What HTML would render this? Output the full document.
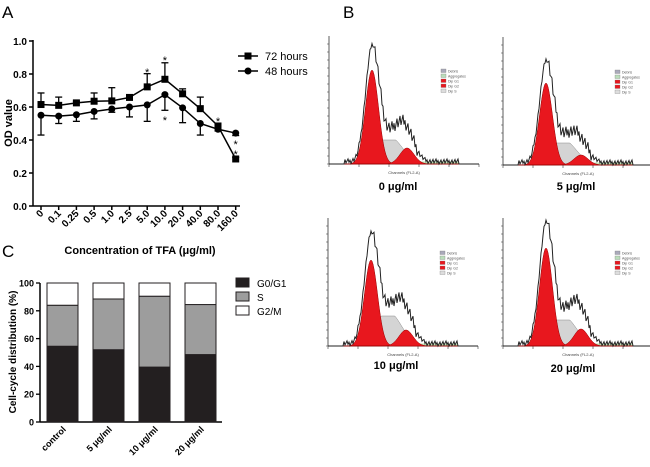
<!DOCTYPE html>
<html><head><meta charset="utf-8"><style>
body{margin:0;background:#fff;width:650px;height:462px;overflow:hidden;font-family:"Liberation Sans",Arial,sans-serif}
</style></head><body>
<svg id="svg" width="650" height="462" xmlns="http://www.w3.org/2000/svg" font-family="Liberation Sans, Arial, sans-serif">
<text x="2" y="18" font-size="17">A</text>
<text x="343" y="18" font-size="17">B</text>
<text x="2" y="257" font-size="17">C</text>
<g id="pa"></g>
<g id="pb"></g>
<g id="pc"></g>
</svg>
<script>
const NS="http://www.w3.org/2000/svg";
function mk(p,t,a){const e=document.createElementNS(NS,t);for(const k in a)e.setAttribute(k,a[k]);p.appendChild(e);return e;}
// ---- Panel A data
const concLabels=["0","0.1","0.25","0.5","1.0","2.5","5.0","10.0","20.0","40.0","80.0","160.0"];
const od72=[0.615,0.61,0.625,0.635,0.637,0.658,0.722,0.768,0.68,0.59,0.485,0.285];
const err72=[0.07,0.05,0.01,0.05,0.08,0.01,0.08,0.1,0.03,0.07,0.01,0.01];
const od48=[0.55,0.545,0.553,0.573,0.588,0.6,0.613,0.675,0.595,0.5,0.465,0.442];
const err48=[0.12,0.045,0.04,0.045,0.02,0.06,0.1,0.095,0.09,0.07,0.01,0.015];
const yTicksA=[0,0.2,0.4,0.6,0.8,1.0];
// ---- Panel C data
const groups=["control","5 μg/ml","10 μg/ml","20 μg/ml"];
const g0g1=[54.5,52,39.5,48.5];
const sPhase=[29.5,36.5,51,36];
const g2m=[16,11.5,9.5,15.5];
const yTicksC=[0,20,40,60,80,100];

(function(){
const g=document.getElementById('pa');
const X=i=>41+i*17.7, Y=v=>206-v*165;
let e=mk(g,'line',{x1:33,y1:40,x2:33,y2:206,stroke:'#000','stroke-width':1.5});

e=mk(g,'line',{x1:33,y1:206,x2:240,y2:206,stroke:'#000','stroke-width':1.5});

yTicksA.forEach(v=>{mk(g,'line',{x1:29,y1:Y(v),x2:33,y2:Y(v),stroke:'#000','stroke-width':1.5});
 const t=mk(g,'text',{x:27,y:Y(v)+4,'font-size':10,'font-weight':'bold','text-anchor':'end'});t.textContent=v.toFixed(1);
 });
concLabels.forEach((l,i)=>{mk(g,'line',{x1:X(i),y1:206,x2:X(i),y2:210,stroke:'#000','stroke-width':1.5});
 const t=mk(g,'text',{x:X(i)+3,y:214,'font-size':10,'font-weight':'bold','text-anchor':'end',transform:`rotate(-45 ${X(i)+3} 214)`});t.textContent=l;
 });
let t=mk(g,'text',{x:0,y:0,'font-size':11,'font-weight':'bold','text-anchor':'middle',transform:'translate(12 123) rotate(-90)'});t.textContent='OD value';

t=mk(g,'text',{x:140,y:254,'font-size':11,'font-weight':'bold','text-anchor':'middle'});t.textContent='Concentration of TFA (μg/ml)';

function series(vals,errs,name,sq,dir){
 mk(g,'polyline',{points:vals.map((v,i)=>X(i)+','+Y(v)).join(' '),fill:'none',stroke:'#000','stroke-width':1.5});
 vals.forEach((v,i)=>{const y2=Y(v+dir*errs[i]);
  mk(g,'line',{x1:X(i),y1:Y(v),x2:X(i),y2:y2,stroke:'#000','stroke-width':1.3});
  mk(g,'line',{x1:X(i)-3.5,y1:y2,x2:X(i)+3.5,y2:y2,stroke:'#000','stroke-width':1.3});
  const m=sq?mk(g,'rect',{x:X(i)-3.5,y:Y(v)-3.5,width:7,height:7,fill:'#000'}):mk(g,'circle',{cx:X(i),cy:Y(v),r:3.5,fill:'#000'});
  });
}
series(od72,err72,'72h',true,1);
series(od48,err48,'48h',false,-1);
[[6,69],[7,57],[7,117],[10,118],[11,141],[11,151]].forEach(([i,cy])=>{const s=mk(g,'text',{x:X(i),y:cy+7,'font-size':11,'text-anchor':'middle'});s.textContent='*';
 });
[['72 hours',true,56],['48 hours',false,71]].forEach(([l,sq,y])=>{mk(g,'line',{x1:238,y1:y,x2:258,y2:y,stroke:'#000','stroke-width':1.5});
 sq?mk(g,'rect',{x:244.5,y:y-3.5,width:7,height:7}):mk(g,'circle',{cx:248,cy:y,r:3.5});
 const tt=mk(g,'text',{x:265,y:y+4,'font-size':11});tt.textContent=l;});
})();

(function(){
const g=document.getElementById('pc');
const Y=v=>422-v*1.39; const BX=[47,93,139,185];
mk(g,'line',{x1:40,y1:283,x2:40,y2:422,stroke:'#000','stroke-width':1.5});
mk(g,'line',{x1:40,y1:422,x2:222,y2:422,stroke:'#000','stroke-width':1.5});
yTicksC.forEach(v=>{mk(g,'line',{x1:36,y1:Y(v),x2:40,y2:Y(v),stroke:'#000','stroke-width':1.3});
 const t=mk(g,'text',{x:34,y:Y(v)+3.5,'font-size':9,'font-weight':'bold','text-anchor':'end'});t.textContent=v;});
let t=mk(g,'text',{x:0,y:0,'font-size':10,'font-weight':'bold','text-anchor':'middle',transform:'translate(16 352) rotate(-90)'});t.textContent='Cell-cycle distribution (%)';

groups.forEach((l,i)=>{const x=BX[i],w=31;let base=0;
 [[g0g1[i],'#231f20','g0g1'],[sPhase[i],'#9d9d9d','s'],[g2m[i],'#fff','g2m']].forEach(([v,c,n])=>{
  const r=mk(g,'rect',{x:x,y:Y(base+v),width:w,height:v*1.39,fill:c,stroke:'#231f20','stroke-width':1});
  base+=v;});
 const cx=x+w/2+4;const tt=mk(g,'text',{x:cx,y:430,'font-size':9,'font-weight':'bold','text-anchor':'end',transform:`rotate(-45 ${cx} 430)`});tt.textContent=l;
 });
[['G0/G1','#231f20',283],['S','#9d9d9d',297],['G2/M','#fff',311]].forEach(([l,c,y])=>{
 mk(g,'rect',{x:236,y:y-5,width:13,height:9,fill:c,stroke:'#231f20'});
 const tt=mk(g,'text',{x:257,y:y+4,'font-size':10});tt.textContent=l;});
})();

(function(){
const g=document.getElementById('pb');
const plots=[[329,164,94,24,16,'0 μg/ml',398,190],[503,165,82,22,10,'5 μg/ml',576,190],[328,346,86,30,16,'10 μg/ml',396,369],[503,346,98,26,17,'20 μg/ml',573,372]];
const gs=(c,m,s)=>Math.exp(-((c-m)*(c-m))/(2*s*s));
plots.forEach(([x0,b,h1,hs,h2,lab,lx,ly],pi)=>{
 const pg=mk(g,'g',{});
 mk(pg,'line',{x1:x0,y1:b-128,x2:x0,y2:b,stroke:'#333','stroke-width':0.8});
 mk(pg,'line',{x1:x0,y1:b,x2:x0+150,y2:b,stroke:'#333','stroke-width':0.8});
 for(let k=0;k<=150;k+=30)mk(pg,'line',{x1:x0+k,y1:b,x2:x0+k,y2:b+3,stroke:'#333','stroke-width':0.6});
 for(let k=0;k<=120;k+=8)mk(pg,'line',{x1:x0-2,y1:b-k,x2:x0,y2:b-k,stroke:'#333','stroke-width':0.5});
 const sp=c=>c<30||c>95?0:hs*Math.min(1,gs(c,60,13)*1.15);
 let s1='M'+x0+' '+b,s2=s1,s3=s1,out='M'+x0+' '+b,gr=s1;
 for(let c=0;c<=150;c++){const x=x0+c;
  s1+=` L${x} ${b-h1*gs(c,43,6.5)}`;s2+=` L${x} ${b-sp(c)}`;s3+=` L${x} ${b-h2*gs(c,78,7)}`;
  gr+=` L${x} ${b-(c>85&&c<130?2.5:0)}`;
  const n=((c*37)%11-5);out+=` L${x} ${b-Math.max(0,1.1*h1*gs(c,43,6.5)+sp(c)*1.15+h2*1.5*gs(c,77,8)+(c>15&&c<130?2.5+n*0.5+(c>45&&c<90?n*0.8:0):0))}`;}
 mk(pg,'path',{d:gr+` L${x0+150} ${b}Z`,fill:'#bfe3b4',stroke:'none'});
 mk(pg,'path',{d:s2+` L${x0+150} ${b}Z`,fill:'#d4d4d4',stroke:'#888','stroke-width':0.5});
 mk(pg,'path',{d:s1+` L${x0+150} ${b}Z`,fill:'#e8171e',stroke:'#900','stroke-width':0.5});
 mk(pg,'path',{d:s3+` L${x0+150} ${b}Z`,fill:'#e8171e',stroke:'#900','stroke-width':0.5});
 mk(pg,'path',{d:out,fill:'none',stroke:'#222','stroke-width':1});
 ['Debris','Aggregates','Dip G1','Dip G2','Dip S'].forEach((l,k)=>{const ly2=b-95+k*5;
  mk(pg,'rect',{x:x0+112,y:ly2,width:5,height:3.5,fill:['#aab','#bdb','#e8171e','#e8171e','#ddd'][k],stroke:'#777','stroke-width':0.3});
  const tt=mk(pg,'text',{x:x0+119,y:ly2+3.5,'font-size':3.5,fill:'#555'});tt.textContent=l;});
 const tx=mk(pg,'text',{x:x0+75,y:b+10,'font-size':4,'text-anchor':'middle',fill:'#444'});tx.textContent='Channels (FL2-A)';
 const lt=mk(pg,'text',{x:lx,y:ly,'font-size':11,'font-weight':'bold','text-anchor':'middle'});lt.textContent=lab;
 
});
})();
</script>
</body></html>
